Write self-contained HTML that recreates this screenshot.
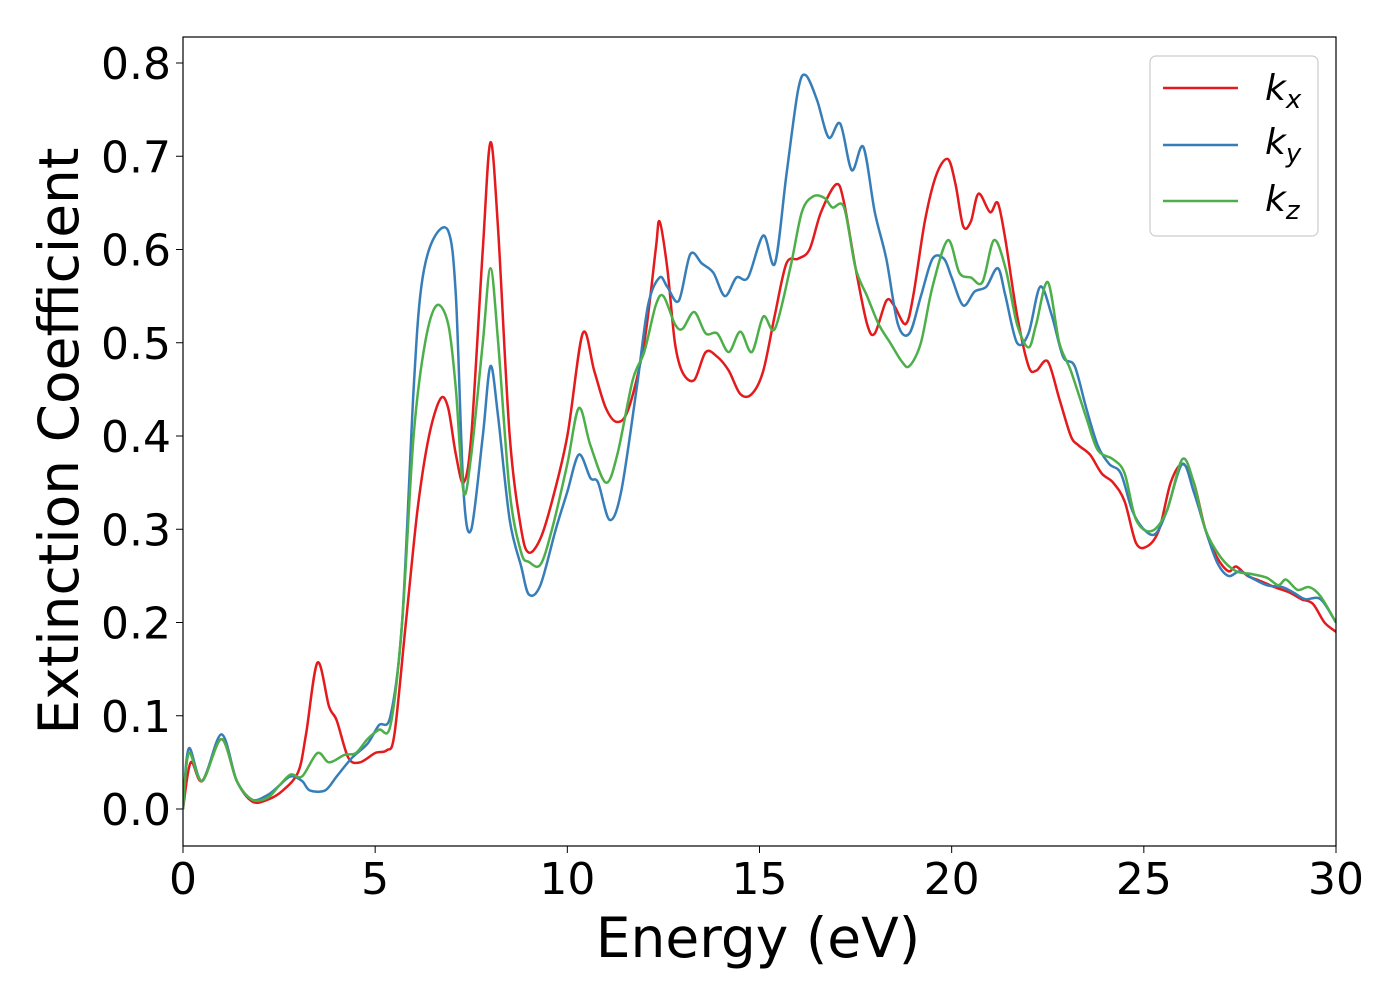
<!DOCTYPE html>
<html><head><meta charset="utf-8"><style>
html,body{margin:0;padding:0;background:#fff;}
svg{display:block;font-family:"DejaVu Sans","Liberation Sans",sans-serif;}
</style></head><body>
<svg id="chart" width="1400" height="1000">
<g id="plot"></g>
<rect x="183" y="37" width="1153" height="809" fill="none" stroke="#000" stroke-width="1.2"/>
<g id="axes"></g>
<text x="758" y="957" font-size="55" text-anchor="middle">Energy (eV)</text>
<text transform="translate(78,441) rotate(-90)" font-size="55" text-anchor="middle">Extinction Coefficient</text>
<g>
<rect x="1150" y="56" width="168" height="180" rx="6" fill="#fff" stroke="#ccc" stroke-width="1.2"/>
<g><line x1="1163" y1="88" x2="1238" y2="88" stroke="#e41a1c" stroke-width="2.5"/><text x="1265" y="100" font-size="36" font-style="italic">k<tspan font-size="26" dy="8">x</tspan></text></g>
<g><line x1="1163" y1="145" x2="1238" y2="145" stroke="#377eb8" stroke-width="2.5"/><text x="1265" y="154" font-size="36" font-style="italic">k<tspan font-size="26" dy="8">y</tspan></text></g>
<g><line x1="1163" y1="201" x2="1238" y2="201" stroke="#4daf4a" stroke-width="2.5"/><text x="1265" y="211" font-size="36" font-style="italic">k<tspan font-size="26" dy="8">z</tspan></text></g>
</g>
</svg>
<script>
const xTicks=[0,5,10,15,20,25,30];
const yTicks=[0,0.1,0.2,0.3,0.4,0.5,0.6,0.7,0.8];
const kxE=[0,0.2,0.5,1.0,1.4,1.8,2.2,2.6,3.0,3.2,3.5,3.8,4.0,4.3,4.6,5.0,5.3,5.5,5.8,6.1,6.4,6.7,6.9,7.1,7.3,7.5,7.8,8.0,8.2,8.5,8.8,9.0,9.3,9.6,10.0,10.4,10.7,11.0,11.3,11.6,12.0,12.3,12.4,12.6,12.8,13.0,13.3,13.6,13.9,14.2,14.5,14.8,15.1,15.4,15.7,16.0,16.3,16.6,17.0,17.2,17.5,17.8,18.0,18.3,18.5,18.8,19.0,19.3,19.6,19.9,20.1,20.3,20.5,20.7,21.0,21.2,21.4,21.7,22.0,22.2,22.5,22.8,23.1,23.3,23.6,23.9,24.2,24.5,24.8,25.1,25.4,25.7,26.0,26.3,26.6,26.9,27.2,27.4,27.7,28.0,28.4,28.8,29.1,29.4,29.7,30];
const kxV=[0,0.05,0.03,0.075,0.03,0.008,0.01,0.02,0.04,0.08,0.157,0.11,0.095,0.055,0.05,0.06,0.063,0.08,0.2,0.32,0.4,0.44,0.43,0.38,0.35,0.4,0.6,0.715,0.62,0.4,0.3,0.275,0.29,0.33,0.4,0.51,0.47,0.43,0.415,0.43,0.5,0.6,0.63,0.58,0.5,0.468,0.46,0.49,0.485,0.47,0.445,0.445,0.47,0.53,0.585,0.59,0.6,0.64,0.67,0.65,0.58,0.52,0.51,0.545,0.54,0.52,0.55,0.63,0.68,0.697,0.67,0.625,0.63,0.66,0.64,0.65,0.61,0.53,0.475,0.47,0.48,0.44,0.4,0.39,0.38,0.36,0.35,0.33,0.285,0.282,0.3,0.35,0.37,0.35,0.3,0.27,0.255,0.26,0.25,0.245,0.238,0.232,0.225,0.22,0.2,0.19];
const kyE=[0,0.15,0.5,1.0,1.4,1.8,2.2,2.5,2.8,3.1,3.3,3.7,4.0,4.4,4.8,5.1,5.4,5.7,6.0,6.2,6.5,6.9,7.1,7.3,7.5,7.8,8.0,8.2,8.5,8.8,9.0,9.3,9.7,10.0,10.3,10.6,10.8,11.1,11.4,11.8,12.1,12.4,12.6,12.9,13.2,13.5,13.8,14.1,14.4,14.7,15.1,15.4,15.7,16.0,16.2,16.5,16.8,17.1,17.4,17.7,18.0,18.3,18.6,18.9,19.2,19.5,19.8,20.0,20.3,20.6,20.9,21.2,21.4,21.7,22.0,22.3,22.6,22.9,23.2,23.5,23.8,24.1,24.4,24.7,25.0,25.3,25.6,26.0,26.3,26.6,26.9,27.2,27.5,27.8,28.2,28.6,28.9,29.2,29.6,30];
const kyV=[0,0.065,0.03,0.08,0.03,0.01,0.015,0.025,0.035,0.03,0.02,0.02,0.035,0.055,0.07,0.09,0.1,0.2,0.45,0.56,0.61,0.62,0.55,0.34,0.3,0.4,0.475,0.42,0.31,0.26,0.23,0.24,0.3,0.34,0.38,0.355,0.35,0.31,0.34,0.45,0.54,0.57,0.56,0.545,0.595,0.585,0.575,0.55,0.57,0.57,0.615,0.585,0.68,0.77,0.787,0.76,0.72,0.735,0.685,0.71,0.64,0.59,0.52,0.51,0.55,0.59,0.59,0.57,0.54,0.555,0.56,0.58,0.55,0.5,0.51,0.56,0.53,0.485,0.475,0.43,0.39,0.37,0.36,0.32,0.3,0.295,0.32,0.37,0.34,0.3,0.265,0.25,0.255,0.248,0.24,0.238,0.232,0.225,0.225,0.2];
const kzE=[0,0.15,0.5,1.0,1.4,1.8,2.2,2.5,2.8,3.1,3.5,3.8,4.2,4.5,4.8,5.1,5.4,5.7,6.0,6.3,6.6,6.9,7.1,7.3,7.5,7.8,8.0,8.2,8.5,8.8,9.0,9.3,9.6,10.0,10.3,10.6,11.0,11.3,11.7,12.0,12.3,12.5,12.8,13.0,13.3,13.6,13.9,14.2,14.5,14.8,15.1,15.4,15.8,16.1,16.4,16.7,16.9,17.2,17.5,17.8,18.1,18.4,18.7,18.9,19.2,19.5,19.9,20.2,20.5,20.8,21.1,21.4,21.7,22.0,22.2,22.5,22.8,23.1,23.5,23.8,24.2,24.5,24.8,25.2,25.6,26.0,26.3,26.6,27.0,27.4,27.8,28.2,28.5,28.7,29.0,29.3,29.6,30];
const kzV=[0,0.06,0.03,0.075,0.03,0.01,0.012,0.025,0.037,0.035,0.06,0.05,0.058,0.06,0.075,0.085,0.09,0.2,0.4,0.5,0.54,0.52,0.45,0.34,0.38,0.5,0.58,0.5,0.34,0.275,0.265,0.262,0.3,0.37,0.43,0.39,0.35,0.38,0.46,0.49,0.54,0.55,0.52,0.515,0.533,0.51,0.51,0.49,0.512,0.49,0.528,0.515,0.58,0.64,0.657,0.655,0.645,0.645,0.58,0.55,0.52,0.5,0.48,0.475,0.5,0.56,0.61,0.575,0.57,0.565,0.61,0.58,0.52,0.495,0.52,0.565,0.5,0.47,0.42,0.385,0.375,0.36,0.31,0.298,0.32,0.375,0.35,0.3,0.27,0.255,0.252,0.248,0.24,0.246,0.235,0.238,0.228,0.2];

const NS='http://www.w3.org/2000/svg';
const X0=183,X1=1336,Y0=809,Y8=63;
function sx(v){return X0+(X1-X0)*v/30;}
function sy(v){return Y0+(Y8-Y0)*v/0.8;}
const plot=document.getElementById('plot'),axes=document.getElementById('axes');
function path(E,V){
  const p=E.map((e,i)=>[sx(e),sy(V[i])]);
  let d='M'+p[0][0].toFixed(1)+','+p[0][1].toFixed(1);
  for(let i=0;i<p.length-1;i++){
    const a=p[Math.max(0,i-1)],b=p[i],c=p[i+1],n=p[Math.min(p.length-1,i+2)];
    const t=0.16;
    d+=' C'+(b[0]+(c[0]-a[0])*t).toFixed(1)+','+(b[1]+(c[1]-a[1])*t).toFixed(1)+' '+(c[0]-(n[0]-b[0])*t).toFixed(1)+','+(c[1]-(n[1]-b[1])*t).toFixed(1)+' '+c[0].toFixed(1)+','+c[1].toFixed(1);
  }
  return d;
}
[[kxE,kxV,'#e41a1c','series-kx'],[kyE,kyV,'#377eb8','series-ky'],[kzE,kzV,'#4daf4a','series-kz']].forEach(s=>{
  const el=document.createElementNS(NS,'path');
  el.setAttribute('d',path(s[0],s[1]));
  el.setAttribute('fill','none');el.setAttribute('stroke',s[2]);el.setAttribute('stroke-width','2.5');
  
  
  plot.appendChild(el);
});
const cp=document.createElementNS(NS,'clipPath');cp.id='cl';
const cr=document.createElementNS(NS,'rect');cr.setAttribute('x',X0);cr.setAttribute('y',37);cr.setAttribute('width',X1-X0);cr.setAttribute('height',809);
cp.appendChild(cr);document.getElementById('chart').appendChild(cp);plot.setAttribute('clip-path','url(#cl)');
xTicks.forEach(t=>{
  const l=document.createElementNS(NS,'line');l.setAttribute('x1',sx(t));l.setAttribute('x2',sx(t));l.setAttribute('y1',846);l.setAttribute('y2',853);l.setAttribute('stroke','#000');
  
  
  axes.appendChild(l);
  const tx=document.createElementNS(NS,'text');tx.setAttribute('x',sx(t));tx.setAttribute('y',894);tx.setAttribute('font-size','44');tx.setAttribute('text-anchor','middle');tx.textContent=t;
  
  
  axes.appendChild(tx);
});
yTicks.forEach(t=>{
  const l=document.createElementNS(NS,'line');l.setAttribute('x1',176);l.setAttribute('x2',183);l.setAttribute('y1',sy(t));l.setAttribute('y2',sy(t));l.setAttribute('stroke','#000');
  
  
  axes.appendChild(l);
  const tx=document.createElementNS(NS,'text');tx.setAttribute('x',171);tx.setAttribute('y',sy(t)+16);tx.setAttribute('font-size','44');tx.setAttribute('text-anchor','end');tx.textContent=t.toFixed(1);
  
  
  axes.appendChild(tx);
});
</script>
</body></html>
